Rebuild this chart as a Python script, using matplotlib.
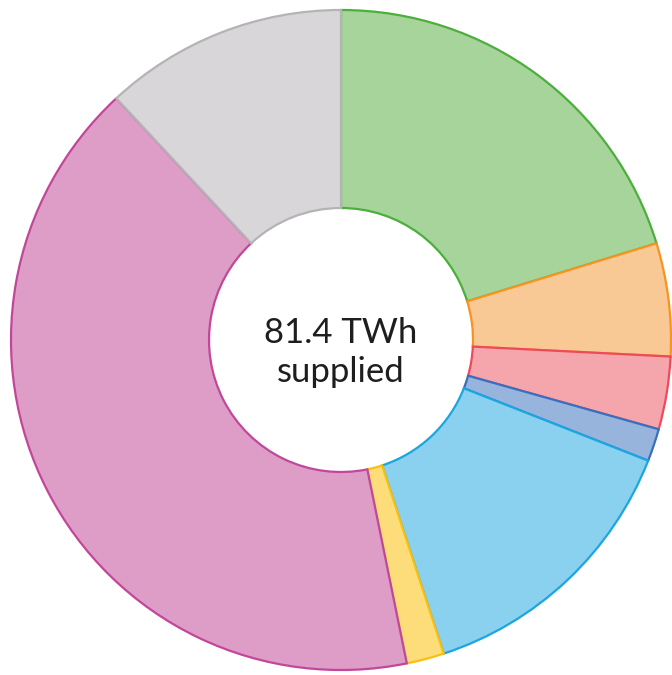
import matplotlib.pyplot as plt

# electricity supplied by source, TWh
sources = ['Wind', 'Solar', 'Hydro', 'Bioenergy', 'Nuclear', 'Other', 'Gas', 'Imports']
values = [16.5, 4.5, 2.9, 1.3, 11.4, 1.5, 33.6, 9.7]
total_label = '81.4 TWh'
sub_label = 'supplied'

fill_colors = ['#a6d49a', '#f9c995', '#f4a6ac', '#96b4dc', '#8ad0ef', '#fddc7a', '#dd9dc7', '#d8d6d8']
edge_colors = ['#4caf3c', '#f7931e', '#ee4a5a', '#3a6fbf', '#1ba6e0', '#f9c010', '#c2479a', '#b5b3b5']

fig = plt.figure(figsize=(6.72, 6.75), dpi=100)
# axes sized so that radius 1 == 330 px, centred at (341, 340) px from top-left
ax = fig.add_axes([11 / 672, 5 / 675, 660 / 672, 660 / 675])

wedges, _ = ax.pie(values, colors=fill_colors, startangle=90, counterclock=False,
                   radius=1.0, wedgeprops=dict(width=0.6, linewidth=1.6))
for w, ec in zip(wedges, edge_colors):
    w.set_edgecolor(ec)

ax.text(0, -0.009, total_label, ha='center', va='baseline', fontsize=25,
        family='Lato', color='#1e1e1e')
ax.text(0, -0.127, sub_label, ha='center', va='baseline', fontsize=25,
        family='Lato', color='#1e1e1e')

ax.set_xlim(-1, 1)
ax.set_ylim(-1, 1)
ax.set_aspect('equal')
ax.axis('off')

fig.savefig('out.png', dpi=100)
